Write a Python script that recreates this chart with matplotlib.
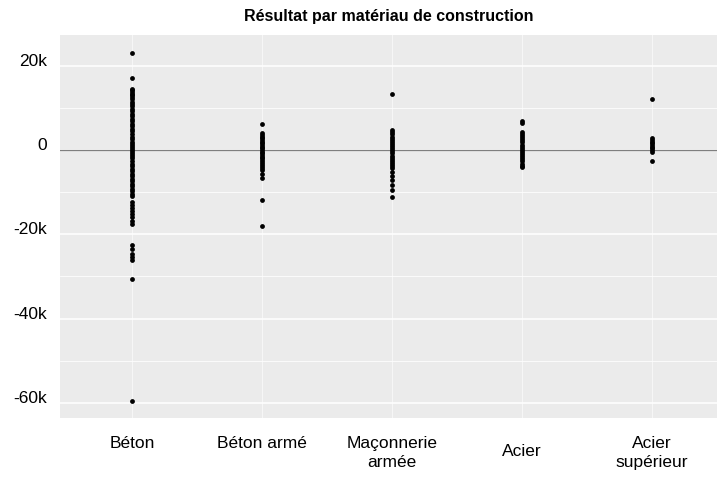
import matplotlib
matplotlib.use("Agg")
import matplotlib.pyplot as plt
from matplotlib.ticker import FixedLocator, FuncFormatter
from matplotlib.transforms import ScaledTranslation

plt.rcParams["font.family"] = ["Liberation Sans", "DejaVu Sans"]

categories = ["Béton", "Béton armé", "Maçonnerie\narmée", "Acier", "Acier\nsupérieur"]

beton = [23000, 17000, 14600, 14200, 13800, 13400, 13000, 12500, 12000, 11500,
         11000, 10400, 9800, 9200, 8600, 8000, 7400, 6800, 6200, 5600, 5000,
         4400, 3800, 3200, 2600, 2000, 1500, 1000, 500, 0, -500, -1000, -1500,
         -2000, -2600, -3200, -3800, -4400, -5000, -5600, -6200, -6800, -7400,
         -8000, -8600, -9200, -9800, -10400, -10800, -12300, -13000, -13800,
         -14500, -15300, -16000, -16800, -17600, -22600, -23600, -24600,
         -25400, -26000, -30500, -59500]
beton_arme = [6200, 4000, 3600, 3200, 2800, 2400, 2000, 1600, 1200, 800, 400, 0,
              -400, -800, -1200, -1600, -2000, -2400, -2800, -3200, -3700,
              -4200, -4700, -5600, -6600, -11800, -18000]
maconnerie_armee = [13300, 4700, 4200, 3700, 3200, 2700, 2200, 1700, 1200, 700,
                    200, -300, -800, -1300, -1800, -2300, -2800, -3300, -3800,
                    -4300, -5300, -6200, -7000, -8200, -9600, -11100]
acier = [6900, 6300, 4300, 3800, 3300, 2800, 2300, 1800, 1300, 800, 300, -200,
         -700, -1200, -1700, -2200, -2700, -3200, -3700, -4100]
acier_superieur = [12100, 2800, 2400, 2000, 1600, 1200, 800, 400, 0, -400, -2500]

series = [beton, beton_arme, maconnerie_armee, acier, acier_superieur]

major_ticks = [20000, 0, -20000, -40000, -60000]
minor_ticks = [10000, -10000, -30000, -50000]

fig = plt.figure(figsize=(7.17, 4.78), dpi=100)
ax = fig.add_axes([60 / 717, 1 - 418 / 478, 1 - 60 / 717, (418 - 35) / 478])
ax.set_facecolor("#EBEBEB")
for s in ax.spines.values():
    s.set_visible(False)

positions = list(range(1, len(categories) + 1))
for pos, vals in zip(positions, series):
    ax.scatter([pos] * len(vals), vals, s=12, color="black", linewidths=0, zorder=4)

ax.axhline(0, color="#7F7F7F", lw=0.9, zorder=3)

ax.set_xlim(1 - 72 / 130, 5 + 65 / 130)
ax.set_ylim(-63600, 27300)

ax.yaxis.set_major_locator(FixedLocator(major_ticks))
ax.yaxis.set_minor_locator(FixedLocator(minor_ticks))
ax.yaxis.set_major_formatter(FuncFormatter(lambda v, p: "0" if v == 0 else f"{int(v / 1000)}k"))
ax.set_xticks(positions)
ax.set_xticklabels(categories)

ax.grid(True, axis="y", which="major", color="white", lw=1.1, zorder=1)
ax.grid(True, axis="y", which="minor", color="white", lw=0.55, zorder=1)
ax.grid(True, axis="x", which="major", color="white", lw=0.8, alpha=0.6, zorder=1)
ax.set_axisbelow(True)

ax.tick_params(axis="both", which="both", length=0, labelsize=12.5, labelcolor="black")
ax.tick_params(axis="y", pad=9)
ax.tick_params(axis="x", pad=13)

for lbl in ax.get_yticklabels():
    lbl.set_verticalalignment("baseline")
for lbl in ax.get_xticklabels():
    lbl.set_linespacing(1.35)
    if lbl.get_text() == "Acier":
        lbl.set_transform(lbl.get_transform() + ScaledTranslation(0, -8 / 100, fig.dpi_scale_trans))

ax.set_title("Résultat par matériau de construction", fontsize=11.5,
             fontweight="bold", pad=10)

fig.savefig("out.png", dpi=100)
